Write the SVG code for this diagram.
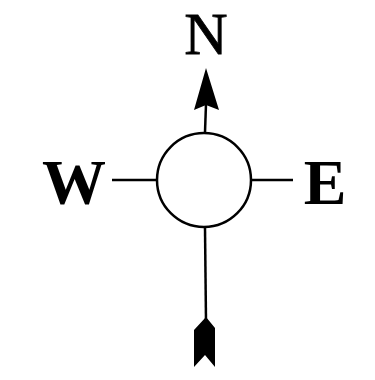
<svg xmlns="http://www.w3.org/2000/svg" width="375" height="380" viewBox="0 0 375 380">
<style>
.lbl{font-family:"Liberation Serif","Times New Roman",serif;fill:#000;text-anchor:middle}
.ln{stroke:#000;stroke-width:2.5;fill:none}
</style>
<rect width="375" height="380" fill="#fff"/>
<g id="connectors">
<line class="ln" x1="112" y1="180" x2="157" y2="180"/>
<line class="ln" x1="251" y1="180" x2="293" y2="180"/>
<line class="ln" x1="206" y1="104" x2="205" y2="132" stroke-width="3"/>
<line class="ln" x1="205" y1="228" x2="206" y2="322" stroke-width="3"/>
<polygon points="206,68 219,110 206,105 194,110" fill="#000"/>
<polygon points="206,317 215,328 215,367 205,355 194,367 194,330" fill="#000"/>
</g>
<g id="center"><circle cx="204" cy="180" r="47" fill="#fff" stroke="#000" stroke-width="2.5"/></g>
<g id="north"><text class="lbl" x="206" y="54" font-size="60" stroke="#000" stroke-width="0.8">N</text></g>
<g id="west"><text class="lbl" x="74" y="204" font-size="64" font-weight="bold">W</text></g>
<g id="east"><text class="lbl" x="325" y="204" font-size="64" font-weight="bold">E</text></g>
</svg>
